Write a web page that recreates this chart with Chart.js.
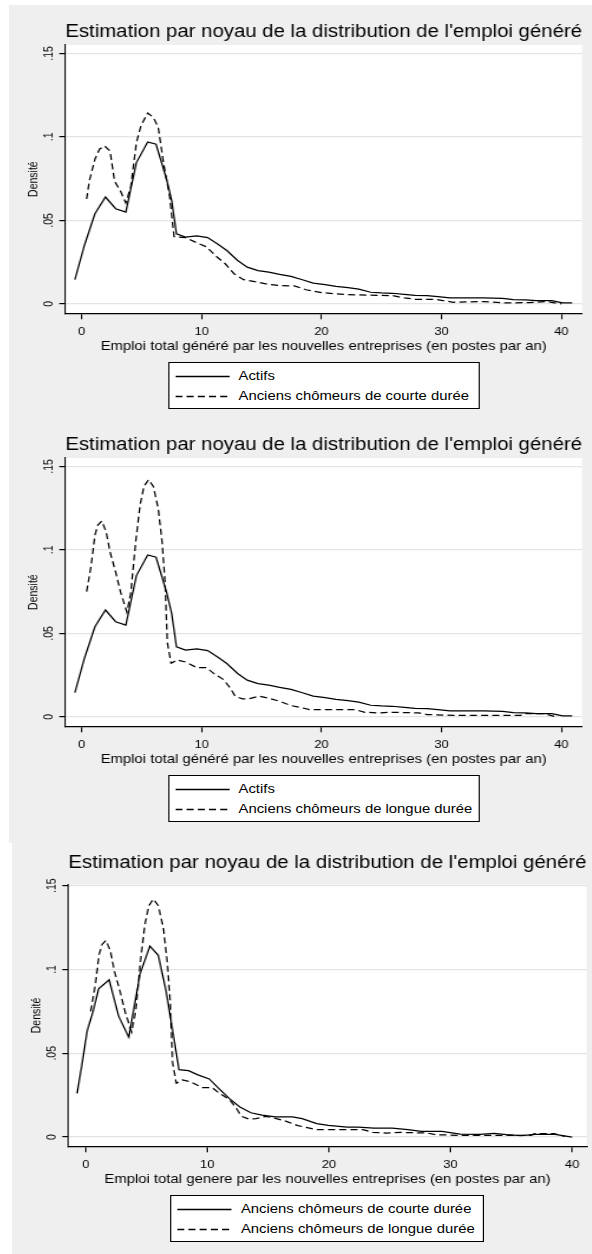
<!DOCTYPE html>
<html><head><meta charset="utf-8">
<script src="https://cdn.jsdelivr.net/npm/chart.js@4.4.1/dist/chart.umd.min.js"></script>
<style>
html,body{margin:0;padding:0;background:#fff;width:592px;height:1254px;overflow:hidden;font-family:"Liberation Sans",Arial,sans-serif;}
.panel{position:absolute;background:#efefef;}
.wrap{position:absolute;transform:scaleX(1.18);transform-origin:0 0;}
canvas{position:absolute;left:0;top:0;}
.legend{position:absolute;background:#fff;border:1px solid #000;box-sizing:border-box;color:#000;font-size:12.6px;}
.legend .row{position:absolute;left:0;right:0;height:20px;line-height:20px;white-space:nowrap;}
.legend svg{position:absolute;left:5px;top:9px;}
.legend span{position:absolute;left:59px;top:0;}
</style></head><body>
<div class="panel" style="left:9px;top:5px;width:583px;height:838px;"></div>
<div class="panel" style="left:12px;top:843px;width:580px;height:411px;"></div>
<div class="wrap" style="left:9px;top:5px;width:494px;height:413px;">
  <canvas id="c1" width="494" height="352" style="width:494px;height:352px;"></canvas>
  <div id="l1" class="legend" style="left:134.5px;top:356.7px;width:264px;height:47px;"></div>
</div>
<div class="wrap" style="left:9px;top:418px;width:494px;height:413px;">
  <canvas id="c2" width="494" height="352" style="width:494px;height:352px;"></canvas>
  <div id="l2" class="legend" style="left:134.5px;top:356.7px;width:264px;height:47px;"></div>
</div>
<div class="wrap" style="left:12px;top:838.4px;width:491px;height:413px;">
  <canvas id="c3" width="491" height="352" style="width:491px;height:352px;"></canvas>
  <div id="l3" class="legend" style="left:134px;top:356.6px;width:266px;height:47px;"></div>
</div>
<script>
// ---------- data ----------
const xTicks = [0, 10, 20, 30, 40];
const yTicks = [0, 0.05, 0.1, 0.15];
const yTickLabels = ['0', '.05', '.1', '.15'];

const chartTitle = "Estimation par noyau de la distribution de l'emploi généré";
const yTitle = "Densité";
const xTitle12 = "Emploi total généré par les nouvelles entreprises (en postes par an)";
const xTitle3 = "Emploi total genere par les nouvelles entreprises (en postes par an)";
const labelActifs = "Actifs";
const labelCourte = "Anciens chômeurs de courte durée";
const labelLongue = "Anciens chômeurs de longue durée";

// Actifs (charts 1 & 2)
const actifsX = [-0.57,0.22,1.1,1.98,2.83,3.68,4.56,5.5,6.2,7.08,7.5,7.9,8.65,9.6,10.5,11.3,12.1,13.0,13.8,14.7,15.6,16.5,17.45,18.4,19.3,20.3,21.2,22.2,23.1,24.1,25.0,25.9,26.9,27.8,28.8,29.7,30.7,31.6,32.5,33.5,35.1,36.0,37.0,37.9,39.2,40.1,40.9];
const actifsY = [0.0145,0.035,0.054,0.064,0.057,0.055,0.0846,0.097,0.0956,0.0745,0.062,0.042,0.040,0.0407,0.0397,0.036,0.032,0.026,0.022,0.020,0.019,0.0177,0.0165,0.0145,0.0125,0.0115,0.0105,0.0097,0.0089,0.007,0.0066,0.0064,0.0058,0.0052,0.005,0.0044,0.0036,0.0036,0.0036,0.0036,0.0034,0.0026,0.0024,0.002,0.002,0.0006,0.0006];

// Anciens chômeurs de courte durée (chart 1)
const courte1X = [0.41,0.63,1.1,1.48,1.9,2.36,2.74,3.24,3.68,4.1,4.56,4.94,5.5,5.97,6.38,6.82,7.33,7.7,8.65,9.6,10.4,11.2,11.95,12.7,13.5,14.6,15.6,16.5,17.8,18.7,20.0,21.2,22.8,24.7,25.9,26.9,27.8,29.4,31.0,33.5,35.4,37.3,38.8,40.0];
const courte1Y = [0.0628,0.0735,0.0866,0.0926,0.0946,0.0916,0.0735,0.0674,0.0604,0.0705,0.0966,0.1067,0.1143,0.1117,0.1057,0.0846,0.0644,0.0403,0.0397,0.0366,0.0342,0.0286,0.0242,0.0181,0.0145,0.0131,0.0117,0.0111,0.0107,0.0085,0.0068,0.006,0.0054,0.0052,0.005,0.0036,0.0028,0.0028,0.001,0.0014,0.0006,0.0008,0.0014,0];

// Anciens chômeurs de longue durée (charts 2 & 3)
const longueX = [0.41,0.79,1.1,1.35,1.67,2.04,2.36,2.83,3.24,3.77,4.1,4.5,4.87,5.19,5.57,5.97,6.38,6.7,6.95,7.14,7.45,7.96,8.65,9.6,10.4,11.0,11.8,12.36,12.8,13.4,14.0,14.8,15.6,16.5,17.45,18.4,19.0,20.9,22.8,23.6,24.7,25.9,28.1,28.8,31.0,34.1,36.6,36.9,38.5,39.4];
const longueY = [0.075,0.0908,0.1088,0.1149,0.1173,0.1108,0.0988,0.0867,0.0747,0.0627,0.0747,0.1048,0.1269,0.138,0.142,0.138,0.1249,0.1048,0.0807,0.0446,0.0321,0.0341,0.0329,0.0295,0.0295,0.0261,0.0225,0.0175,0.0124,0.0108,0.011,0.0124,0.0112,0.0094,0.0068,0.0054,0.0044,0.0044,0.0044,0.0028,0.0024,0.0028,0.0024,0.0014,0.001,0.001,0.001,0.002,0.002,0.0004];

// Anciens chômeurs de courte durée (chart 3)
const courte3X = [-0.71,-0.31,0.12,0.62,1.06,1.93,2.7,3.54,4.47,5.28,5.97,6.6,7.15,7.67,8.45,9.23,10.16,10.94,11.8,12.65,13.58,14.5,15.6,17.0,17.8,19.0,19.95,21.5,22.4,23.7,25.2,26.5,27.6,29.3,30.8,32.4,33.6,34.6,35.8,37.0,38.6,40.0];
const courte3Y = [0.0261,0.0432,0.0633,0.0753,0.0884,0.0938,0.0723,0.0596,0.0974,0.1139,0.1084,0.0873,0.0633,0.0402,0.0396,0.0371,0.0347,0.0291,0.0231,0.0181,0.0145,0.0131,0.012,0.012,0.011,0.008,0.007,0.006,0.006,0.0054,0.0054,0.0044,0.0034,0.0034,0.0018,0.0016,0.0022,0.0014,0.0008,0.0016,0.0016,0];

// ---------- rendering ----------
const FONT = '"Liberation Sans", Arial, sans-serif';
const pts = (X, Y) => X.map((v, i) => ({x: v, y: Y[i]}));
const SOLID = [];
const DASH = [6, 3.5];

const plotBg = {
  id: 'plotBg',
  beforeDraw(c) {
    const a = c.chartArea, ctx = c.ctx;
    ctx.save(); ctx.fillStyle = '#fff';
    ctx.fillRect(a.left, a.top, a.right - a.left, a.bottom - a.top);
    ctx.restore();
  }
};

function ds(label, X, Y, dash) {
  return {label, data: pts(X, Y), borderColor: '#000', borderWidth: 1.25, borderDash: dash,
          pointRadius: 0, tension: 0, fill: false};
}

function makeChart(id, g, xTitle, sets) {
  return new Chart(document.getElementById(id), {
    type: 'line',
    data: {datasets: sets},
    plugins: [plotBg],
    options: {
      responsive: false, animation: false, devicePixelRatio: 1,
      layout: {padding: {left: 0, right: g.padRight, top: 0, bottom: 0}},
      plugins: {
        legend: {display: false},
        tooltip: {enabled: false},
        title: {display: true, text: chartTitle, fullSize: false, color: '#000',
                font: {family: FONT, size: 17.5, weight: 'normal', lineHeight: 1.2},
                padding: {top: g.tTop, bottom: g.tBot}}
      },
      scales: {
        x: {
          type: 'linear', min: g.xmin, max: g.xmax,
          afterBuildTicks: s => { s.ticks = xTicks.map(v => ({value: v})); },
          afterFit: s => { s.height = g.xH; },
          grid: {drawOnChartArea: false, drawTicks: true, tickLength: 6, tickColor: '#000', tickWidth: 1.1},
          border: {color: '#000', width: 1.3},
          ticks: {color: '#000', font: {family: FONT, size: 11}, padding: 5.6, maxRotation: 0, autoSkip: false},
          title: {display: true, text: xTitle, color: '#000',
                  font: {family: FONT, size: 12.6, lineHeight: 1.2}, padding: {top: 0, bottom: 3.1}}
        },
        y: {
          type: 'linear', min: g.ymin, max: g.ymax,
          afterBuildTicks: s => { s.ticks = yTicks.map(v => ({value: v})); },
          afterFit: s => { s.width = g.yW; },
          grid: {color: '#e4e4e4', lineWidth: 1.2, drawTicks: true, tickLength: 5.1, tickColor: '#000', tickWidth: 1.2},
          border: {color: '#000', width: 1.1},
          ticks: {color: '#000', font: {family: FONT, size: 10.5}, minRotation: 90, maxRotation: 90,
                  crossAlign: 'center', padding: 1.1, autoSkip: false,
                  callback: v => { const i = yTicks.findIndex(t => Math.abs(t - v) < 1e-9); return i >= 0 ? yTickLabels[i] : ''; }},
          title: {display: true, text: yTitle, color: '#000',
                  font: {family: FONT, size: 10.5, lineHeight: 1.2}, padding: {top: 15.1, bottom: 0}}
        }
      }
    }
  });
}

function makeLegend(id, items) {
  const el = document.getElementById(id);
  items.forEach((it, i) => {
    const row = document.createElement('div');
    row.className = 'row';
    row.style.top = (3 + i * 20) + 'px';
    const svgNS = 'http://www.w3.org/2000/svg';
    const svg = document.createElementNS(svgNS, 'svg');
    svg.setAttribute('width', '47'); svg.setAttribute('height', '3');
    const ln = document.createElementNS(svgNS, 'line');
    ln.setAttribute('x1', '0'); ln.setAttribute('x2', '46'); ln.setAttribute('y1', '1.5'); ln.setAttribute('y2', '1.5');
    ln.setAttribute('stroke', '#000'); ln.setAttribute('stroke-width', '1.3');
    if (it.dash.length) ln.setAttribute('stroke-dasharray', it.dash.join(' '));
    svg.appendChild(ln);
    const sp = document.createElement('span');
    sp.textContent = it.label;
    row.appendChild(svg); row.appendChild(sp);
    el.appendChild(row);
  });
}

const g12 = {xmin: -1.37, xmax: 41.72, ymin: -0.0056, ymax: 0.155, tTop: 16.7, tBot: 2.3, xH: 43.7, yW: 47.7, padRight: 8.4};
const g3 = {xmin: -1.43, xmax: 41.2, ymin: -0.0055, ymax: 0.1506, tTop: 14.3, tBot: 11.3, xH: 43.7, yW: 47.7, padRight: 4};

makeChart('c1', g12, xTitle12, [ds(labelActifs, actifsX, actifsY, SOLID), ds(labelCourte, courte1X, courte1Y, DASH)]);
makeChart('c2', g12, xTitle12, [ds(labelActifs, actifsX, actifsY, SOLID), ds(labelLongue, longueX, longueY, DASH)]);
makeChart('c3', g3, xTitle3, [ds(labelCourte, courte3X, courte3Y, SOLID), ds(labelLongue, longueX, longueY, DASH)]);

makeLegend('l1', [{label: labelActifs, dash: SOLID}, {label: labelCourte, dash: DASH}]);
makeLegend('l2', [{label: labelActifs, dash: SOLID}, {label: labelLongue, dash: DASH}]);
makeLegend('l3', [{label: labelCourte, dash: SOLID}, {label: labelLongue, dash: DASH}]);
</script>
</body></html>
